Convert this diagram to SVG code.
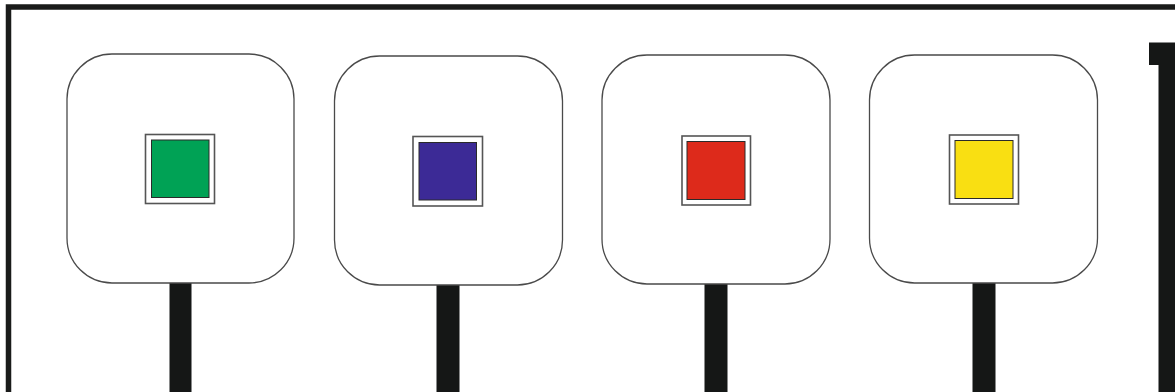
<svg xmlns="http://www.w3.org/2000/svg" width="1175" height="392" viewBox="0 0 1175 392">
<style>
.frame{fill:none;stroke:#1a1b1a;stroke-width:5.5}
.card{fill:#fff;stroke:#4a4a4a;stroke-width:1.3}
.socket{fill:#fff;stroke:#555;stroke-width:1.6}
.lamp{stroke:#2a2a2a;stroke-width:1}
.stem{fill:#151716}
</style>
<rect width="1175" height="392" fill="#fff"/>
<g id="frame">
<path class="frame" d="M8.5 392 V7 H1175"/>
<path fill="#151716" d="M1149 42.5 H1175 V392 H1158.5 V65 H1149 Z"/>
</g>
<g id="connectors">
<rect class="stem" x="169.5" y="283" width="22" height="109"/>
<rect class="stem" x="436.5" y="285" width="23" height="107"/>
<rect class="stem" x="704.5" y="284" width="23" height="108"/>
<rect class="stem" x="972.5" y="283" width="23" height="109"/>
</g>
<g id="node-green">
<rect class="card" x="67" y="54" width="227" height="229" rx="45"/>
<rect class="socket" x="145.5" y="134.5" width="69" height="69"/>
<rect class="lamp" x="151.5" y="140" width="57.5" height="57.5" fill="#00a255"/>
</g>
<g id="node-blue">
<rect class="card" x="334.5" y="56" width="228" height="229" rx="45"/>
<rect class="socket" x="413" y="136.5" width="69.5" height="69.5"/>
<rect class="lamp" x="419" y="142.5" width="57.5" height="57.5" fill="#3c2a96"/>
</g>
<g id="node-red">
<rect class="card" x="602" y="55" width="228" height="229" rx="45"/>
<rect class="socket" x="682" y="136" width="68.5" height="69"/>
<rect class="lamp" x="687" y="141.5" width="58" height="58" fill="#dd2a1b"/>
</g>
<g id="node-yellow">
<rect class="card" x="869.5" y="55" width="228" height="228" rx="45"/>
<rect class="socket" x="949.5" y="135" width="69" height="69"/>
<rect class="lamp" x="955" y="140.5" width="58" height="58" fill="#f9df12"/>
</g>
</svg>
